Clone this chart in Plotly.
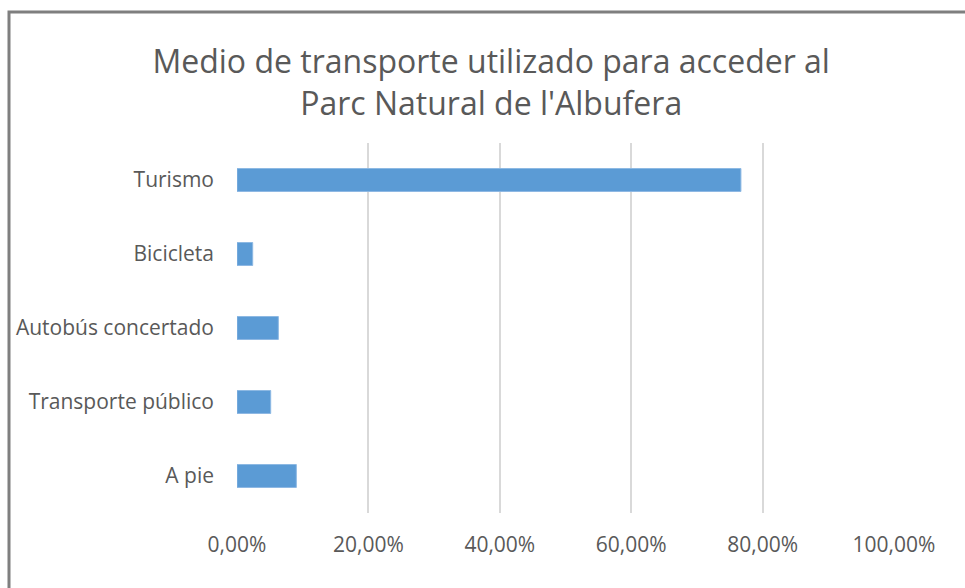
import plotly.graph_objects as go

# Transport modes (bottom to top as drawn) and their shares
categories = ["A pie", "Transporte público", "Autobús concertado", "Bicicleta", "Turismo"]
shares = [0.0903, 0.0513, 0.0629, 0.0239, 0.767]
tick_values = [0, 0.2, 0.4, 0.6, 0.8, 1.0]

W, H = 965, 588
L, R, T, B = 237, 71, 143, 75

fig = go.Figure(
    go.Bar(
        y=categories,
        x=shares,
        orientation="h",
        marker=dict(color="#5B9BD5", line=dict(color="#8DB8E3", width=1)),
        hoverinfo="x+y",
    )
)

fig.update_layout(
    width=W,
    height=H,
    margin=dict(l=L, r=R, t=T, b=B),
    paper_bgcolor="white",
    plot_bgcolor="white",
    separators=",.",
    bargap=0.69,
    showlegend=False,
    font=dict(family="Open Sans, DejaVu Sans, sans-serif", color="#595959"),
    title=dict(
        text="Medio de transporte utilizado para acceder al<br>Parc Natural de l'Albufera",
        x=0.509,
        xanchor="center",
        y=1 - 73 / H,
        yanchor="middle",
        font=dict(size=32, color="#595959", family="Open Sans, DejaVu Sans, sans-serif"),
    ),
    xaxis=dict(
        range=[0, 1.0],
        tickvals=tick_values,
        tickformat=".2%",
        showgrid=True,
        gridcolor="#D9D9D9",
        gridwidth=1.5,
        zeroline=False,
        showline=False,
        ticks="",
        ticklabelstandoff=17,
        tickfont=dict(size=21, color="#595959"),
        fixedrange=True,
    ),
    yaxis=dict(
        categoryorder="array",
        categoryarray=categories,
        showgrid=False,
        zeroline=False,
        showline=False,
        ticks="",
        ticklabelstandoff=22,
        tickfont=dict(size=21, color="#595959"),
        fixedrange=True,
    ),
    shapes=[
        # chart frame, running off the right and bottom edges
        dict(
            type="rect",
            xref="paper",
            yref="paper",
            x0=(9 - L) / (W - L - R),
            x1=(W + 20 - L) / (W - L - R),
            y0=(H - B - (H + 20)) / (H - T - B),
            y1=(H - B - 12) / (H - T - B),
            line=dict(color="#7F7F7F", width=3),
            fillcolor="rgba(0,0,0,0)",
            layer="above",
        )
    ],
)

fig.write_html("out.html")
